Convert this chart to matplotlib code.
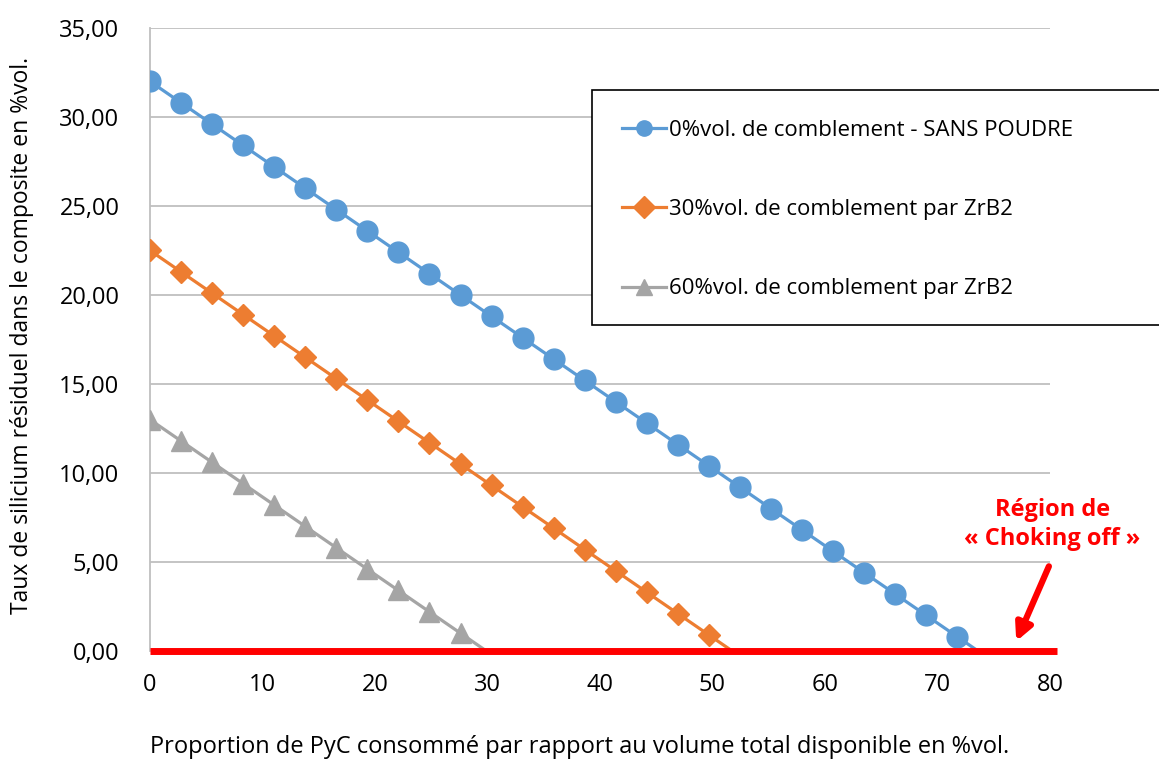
import matplotlib.pyplot as plt
from matplotlib.patches import Rectangle
from matplotlib.ticker import FuncFormatter

plt.rcParams['font.family'] = ['Open Sans', 'DejaVu Sans']

# consumed PyC (%vol.)
x_pyc = [0, 2.76, 5.52, 8.28, 11.04, 13.8, 16.56, 19.32, 22.08, 24.84, 27.6,
         30.36, 33.12, 35.88, 38.64, 41.4, 44.16, 46.92, 49.68, 52.44, 55.2,
         57.96, 60.72, 63.48, 66.24, 69.0, 71.76, 74.52]

si_0 = [32.0, 30.8, 29.6, 28.4, 27.2, 26.0, 24.8, 23.6, 22.4, 21.2, 20.0,
        18.8, 17.6, 16.4, 15.2, 14.0, 12.8, 11.6, 10.4, 9.2, 8.0, 6.8, 5.6,
        4.4, 3.2, 2.0, 0.8, -0.4]
si_30 = [22.5, 21.3, 20.1, 18.9, 17.7, 16.5, 15.3, 14.1, 12.9, 11.7, 10.5,
         9.3, 8.1, 6.9, 5.7, 4.5, 3.3, 2.1, 0.9, -0.3]
si_60 = [13.0, 11.8, 10.6, 9.4, 8.2, 7.0, 5.8, 4.6, 3.4, 2.2, 1.0, -0.2]

labels = ['0%vol. de comblement - SANS POUDRE',
          '30%vol. de comblement par ZrB2',
          '60%vol. de comblement par ZrB2']

fig = plt.figure(figsize=(11.59, 7.6), dpi=100)
ax = fig.add_axes([150 / 1159, 109 / 760, 900 / 1159, 623 / 760])

series = [(si_0, '#5B9BD5', 'o', 15),
          (si_30, '#ED7D31', 'D', 11),
          (si_60, '#A5A5A5', '^', 15)]
handles = []
for (y, col, mk, ms), lab in zip(series, labels):
    n = len(y)
    h, = ax.plot(x_pyc[:n], y, color=col, lw=2.3, marker=mk, ms=ms,
                 markevery=slice(0, n - 1), label=lab, zorder=3)
    handles.append(h)

# choking-off line at zero
ax.plot([0, 80.6], [0, 0], color='#FF0000', lw=5, solid_capstyle='butt',
        clip_on=False, zorder=5)

ax.set_xlim(0, 80)
ax.set_ylim(0, 35)
ax.set_xticks(range(0, 81, 10))
ax.set_yticks(range(0, 36, 5))
ax.yaxis.set_major_formatter(FuncFormatter(lambda v, p: f'{v:.2f}'.replace('.', ',')))
ax.grid(axis='y', color='#BFBFBF', lw=1.3)
ax.set_axisbelow(True)
for s in ['top', 'right', 'bottom']:
    ax.spines[s].set_visible(False)
ax.spines['left'].set_color('#BFBFBF')
ax.spines['left'].set_linewidth(1.3)
ax.tick_params(length=0, labelsize=17)
ax.tick_params(axis='y', pad=22)
ax.tick_params(axis='x', pad=16)

fig.text(22 / 1159, 1 - 335 / 760,
         'Taux de silicium résiduel dans le composite en %vol.',
         rotation=90, ha='center', va='center', fontsize=16.5)
fig.text(580 / 1159, 1 - 747 / 760,
         'Proportion de PyC consommé par rapport au volume total disponible en %vol.',
         ha='center', va='center', fontsize=17)

ax.text(80.2, 7.1, 'Région de\n« Choking off »', color='#FF0000',
        fontsize=17, fontweight='bold', ha='center', va='center',
        linespacing=1.3)
ax.annotate('', xy=(76.9, 0.4), xytext=(80.0, 4.9),
            arrowprops=dict(arrowstyle='-|>,head_length=1.0,head_width=0.5',
                            color='#FF0000', lw=4.5), annotation_clip=False)

# legend box runs off the right edge
fig.patches.append(Rectangle((592 / 1159, 1 - 325 / 760), 0.6, 235 / 760,
                             transform=fig.transFigure, fill=True,
                             facecolor='white', edgecolor='black', lw=1.2,
                             zorder=6))
leg = fig.legend(handles=handles, loc='upper left',
                 bbox_to_anchor=(622 / 1159, 1 - 120 / 760), frameon=False,
                 fontsize=16, handlelength=2.0, handletextpad=0.1,
                 labelspacing=2.62, borderpad=0, borderaxespad=0)
for h in leg.legend_handles:
    h.set_markersize(11)
leg.set_zorder(7)

fig.savefig('out.png', dpi=100)
